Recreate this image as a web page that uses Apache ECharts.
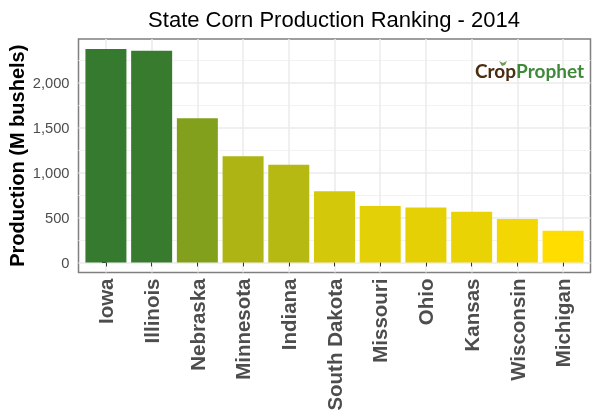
<!DOCTYPE html>
<html>
<head>
    <meta charset="UTF-8">
    <title>State Corn Production Ranking - 2014</title>
    <style>html,body{margin:0;padding:0;background:#fff}</style>
</head>
<body>
<div id="main" style="width:600px;height:420px"></div>
<script src="https://cdn.jsdelivr.net/npm/echarts@6/dist/echarts.min.js"></script>
<script type="text/javascript">
    var states = ['Iowa','Illinois','Nebraska','Minnesota','Indiana','South Dakota','Missouri','Ohio','Kansas','Wisconsin','Michigan'];
    var production = [2370,2351,1602,1180,1085,790,627,611,563,481,353];
    var yTicks = [0,500,1000,1500,2000];
    var yMinorTicks = [250,750,1250,1750,2250];

    var fontName = '"Liberation Sans", Arial, sans-serif';
    var logoFont = 'Lato, sans-serif';
    var stateIndex = states.map(function(s, i){ return i; });

    var option = {
        animation: false,
        backgroundColor: '#fff',
        textStyle: { fontFamily: fontName },
        title: {
            text: 'State Corn Production Ranking - 2014',
            left: 329,
            top: 5,
            textAlign: 'center',
            textStyle: { fontSize: 22, fontWeight: 'normal', color: '#000', fontFamily: fontName }
        },
        grid: {
            left: 78.5,
            right: 9.5,
            top: 39,
            bottom: 147.5,
            outerBoundsMode: 'none',
            show: true,
            borderColor: '#7f7f7f',
            borderWidth: 1.5,
            backgroundColor: 'transparent'
        },
        visualMap: {
            show: false,
            type: 'continuous',
            dimension: 1,
            seriesIndex: 0,
            min: 353,
            max: 2370,
            inRange: { color: ['#ffdd00','#367a2f'] }
        },
        xAxis: {
            type: 'value',
            min: -0.6,
            max: 10.6,
            axisLine: { show: false },
            axisTick: {
                show: true,
                customValues: stateIndex,
                length: 4,
                lineStyle: { color: '#333', width: 1 }
            },
            axisLabel: {
                customValues: stateIndex,
                rotate: 90,
                margin: 6,
                fontSize: 20.5,
                fontWeight: 'bold',
                color: '#4d4d4d',
                fontFamily: fontName,
                formatter: function(v){ return '{s|' + states[v] + '}'; },
                rich: { s: { padding: [3, 0, 0, 0], fontSize: 20.5, fontWeight: 'bold', color: '#4d4d4d', fontFamily: fontName } }
            },
            splitLine: { show: true, lineStyle: { color: '#ebebeb', width: 1.5 } }
        },
        yAxis: [{
            type: 'value',
            min: -112,
            max: 2482,
            name: 'Production (M bushels)',
            nameLocation: 'middle',
            nameGap: 50,
            nameMoveOverlap: false,
            nameTextStyle: { fontSize: 20, fontWeight: 'bold', color: '#000', fontFamily: fontName },
            axisLine: { show: false },
            axisTick: {
                show: true,
                customValues: yTicks,
                length: 4,
                lineStyle: { color: '#333', width: 1 }
            },
            axisLabel: {
                customValues: yTicks,
                margin: 9,
                fontSize: 14.7,
                color: '#4d4d4d',
                fontFamily: fontName,
                formatter: function(v){ return '{n|' + v.toLocaleString('en-US') + '}'; },
                rich: { n: { padding: [3, 0, 0, 0], fontSize: 14.7, color: '#4d4d4d', fontFamily: fontName } }
            },
            splitLine: { show: true, lineStyle: { color: '#ebebeb', width: 1.5 } }
        },{
            type: 'value',
            position: 'left',
            min: -112,
            max: 2482,
            axisLine: { show: false },
            axisTick: { show: false, customValues: yMinorTicks },
            axisLabel: { show: false, customValues: yMinorTicks },
            splitLine: { show: true, lineStyle: { color: '#f2f2f2', width: 1 } }
        }],
        series: [{
            type: 'bar',
            barWidth: 41,
            data: states.map(function(s, i){ return [i, production[i]]; })
        }],
        graphic: [{
            type: 'text',
            left: 475,
            top: 62,
            z: 10,
            style: {
                text: '{a|Crop}{b|Prophet}',
                rich: {
                    a: { fontSize: 19, fontWeight: 'bold', fill: '#4a2c10', fontFamily: logoFont },
                    b: { fontSize: 19, fontWeight: 'bold', fill: '#3f8a3a', fontFamily: logoFont }
                }
            }
        },{
            // sprout on the logo's o
            type: 'polygon',
            z: 10,
            shape: { points: [[502,66],[499,61],[503,63],[507,61],[505,65]] },
            style: { fill: '#6f9a55' }
        }]
    };

    var myChart = echarts.init(document.getElementById('main'));
    myChart.setOption(option);
</script>
</body>
</html>
